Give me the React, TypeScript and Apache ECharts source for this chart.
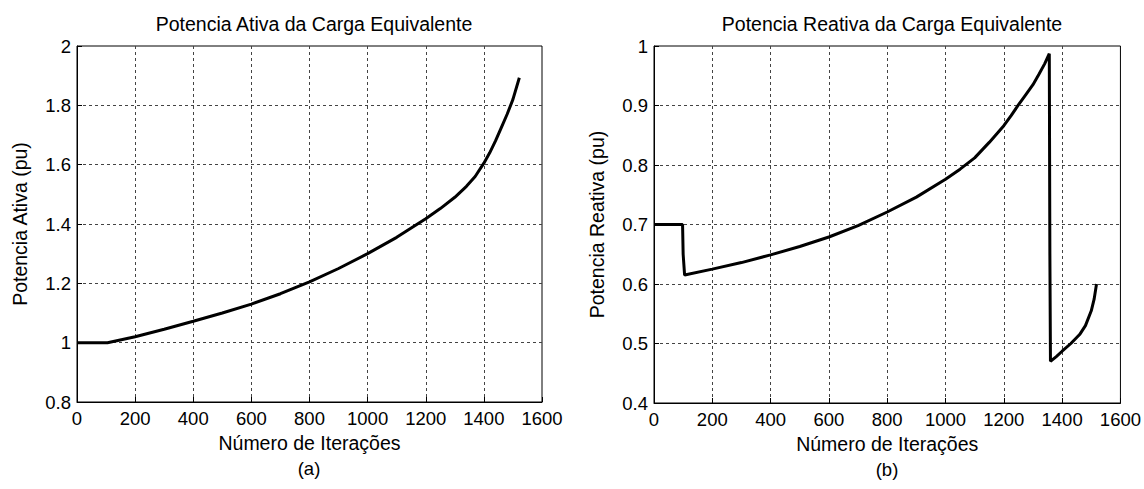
import React, { useEffect, useRef } from "react";
import * as echarts from "echarts";

const titles = ["Potencia Ativa da Carga Equivalente", "Potencia Reativa da Carga Equivalente"];
const yNames = ["Potencia Ativa (pu)", "Potencia Reativa (pu)"];
const xName = "Número de Iterações";
const captions = ["(a)", "(b)"];

const activeIter = [0, 105, 200, 300, 400, 500, 600, 700, 800, 900, 1000, 1100, 1200, 1250, 1300, 1340, 1370, 1400, 1420, 1440, 1460, 1480, 1500, 1522];
const activeVal = [1, 1, 1.02, 1.045, 1.072, 1.1, 1.13, 1.165, 1.205, 1.25, 1.3, 1.355, 1.418, 1.452, 1.49, 1.527, 1.56, 1.605, 1.64, 1.68, 1.725, 1.77, 1.82, 1.893];

const reactIter = [0, 98, 100, 105, 200, 300, 400, 500, 600, 700, 800, 900, 1000, 1050, 1100, 1150, 1200, 1225, 1250, 1275, 1300, 1320, 1340, 1356, 1358, 1360, 1380, 1400, 1430, 1460, 1480, 1500, 1510, 1518];
const reactVal = [0.7, 0.7, 0.65, 0.615, 0.625, 0.636, 0.649, 0.663, 0.679, 0.698, 0.721, 0.746, 0.776, 0.793, 0.812, 0.838, 0.866, 0.883, 0.901, 0.918, 0.935, 0.952, 0.97, 0.987, 0.65, 0.47, 0.478, 0.487, 0.5, 0.515, 0.53, 0.555, 0.575, 0.6];

const xMin = 0, xMax = 1600, xStep = 200;
const yRanges = [
  { min: 0.8, max: 2, interval: 0.2 },
  { min: 0.4, max: 1, interval: 0.1 },
];

export default function App() {
  const ref = useRef<HTMLDivElement>(null);
  useEffect(() => {
    if (!ref.current) return;
    const chart = echarts.init(ref.current, undefined, { renderer: "svg" });
    const font = "Liberation Sans, Arial, sans-serif";
    const grids = [
      { left: 77, right: 602, top: 46, bottom: 87 },
      { left: 654, right: 23, top: 46, bottom: 86 },
    ];
    const gridLine = { show: true, showMinLine: false, showMaxLine: false, lineStyle: { color: "#444", type: [3, 3], width: 1 } };
    const mk = (i: number) => ({
      xAxis: {
        type: "value", gridIndex: i, min: xMin, max: xMax, interval: xStep,
        name: xName, nameLocation: "middle", nameGap: 30,
        nameTextStyle: { fontFamily: font, fontSize: 19.5, color: "#000" },
        axisLine: { show: true, lineStyle: { color: "#000", width: 1 } },
        axisTick: { show: true, inside: true, length: 5, lineStyle: { color: "#000" } },
        axisLabel: { fontFamily: font, fontSize: 18.5, color: "#000", margin: 7, formatter: (v: number) => String(v) },
        splitLine: gridLine,
      },
      yAxis: {
        type: "value", gridIndex: i, min: yRanges[i].min, max: yRanges[i].max, interval: yRanges[i].interval,
        name: yNames[i], nameLocation: "middle", nameGap: 47,
        nameTextStyle: { fontFamily: font, fontSize: 19.5, color: "#000" },
        axisLine: { show: true, lineStyle: { color: "#000", width: 1 } },
        axisTick: { show: true, inside: true, length: 5, lineStyle: { color: "#000" } },
        axisLabel: { fontFamily: font, fontSize: 18.5, color: "#000", margin: 6, formatter: (v: number) => String(parseFloat(v.toFixed(2))) },
        splitLine: gridLine,
      },
    });
    const a = mk(0), b = mk(1);
    const titleStyle = { fontFamily: font, fontSize: 19.5, fontWeight: "normal", color: "#000" };
    chart.setOption({
      animation: false,
      backgroundColor: "#fff",
      title: [
        { text: titles[0], left: 309, top: 9, textAlign: "center", textStyle: titleStyle },
        { text: titles[1], left: 887, top: 9, textAlign: "center", textStyle: titleStyle },
      ],
      grid: grids.map((g) => ({ ...g, show: true, borderColor: "#000", borderWidth: 1, backgroundColor: "#fff" })),
      xAxis: [a.xAxis, b.xAxis],
      yAxis: [a.yAxis, b.yAxis],
      series: [
        {
          type: "line", xAxisIndex: 0, yAxisIndex: 0, showSymbol: false,
          data: activeIter.map((x, k) => [x, activeVal[k]]),
          lineStyle: { color: "#000", width: 3 },
        },
        {
          type: "line", xAxisIndex: 1, yAxisIndex: 1, showSymbol: false,
          data: reactIter.map((x, k) => [x, reactVal[k]]),
          lineStyle: { color: "#000", width: 3 },
        },
      ],
      graphic: [
        { type: "text", x: 309, y: 468, style: { text: captions[0], fontFamily: font, fontSize: 18.5, fill: "#000", textAlign: "center", textVerticalAlign: "middle" } },
        { type: "text", x: 887, y: 469, style: { text: captions[1], fontFamily: font, fontSize: 18.5, fill: "#000", textAlign: "center", textVerticalAlign: "middle" } },
      ],
    });
    return () => chart.dispose();
  }, []);
  return <div ref={ref} style={{ position: "fixed", left: 0, top: 0, width: 1144, height: 489 }} />;
}
